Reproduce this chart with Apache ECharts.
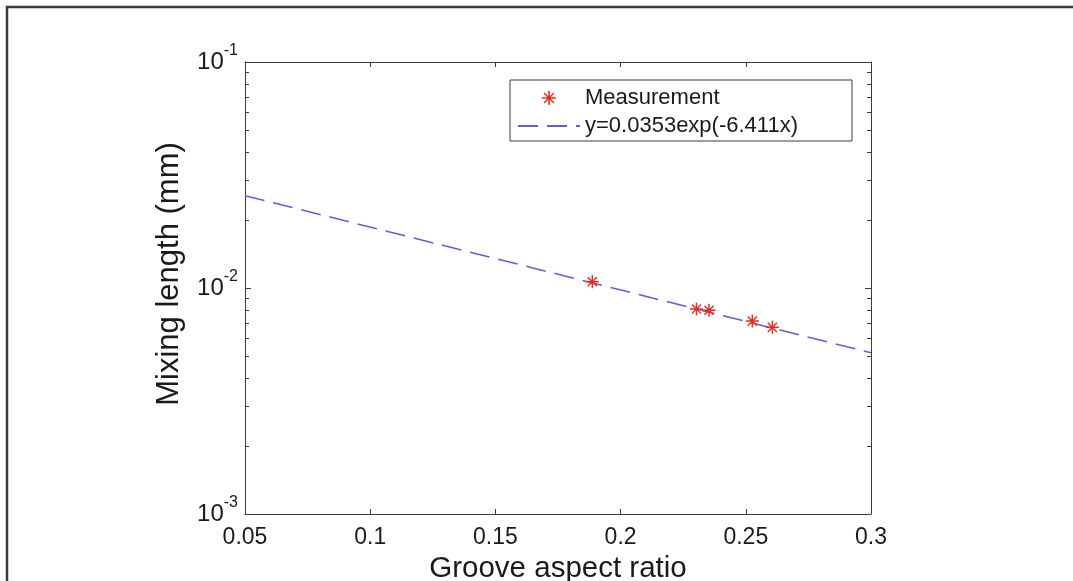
<!DOCTYPE html>
<html>
<head>
<meta charset="utf-8">
<title>Mixing length vs groove aspect ratio</title>
<script src="https://cdn.jsdelivr.net/npm/echarts@6/dist/echarts.min.js"></script>
<style>
  html, body { margin: 0; padding: 0; background: #ffffff; }
  #chart { width: 1073px; height: 581px; }
</style>
</head>
<body>
<div id="chart"></div>
<script>
// Measured mixing length against groove aspect ratio
const aspectRatio = [0.1887, 0.2303, 0.2353, 0.2526, 0.2606];
const mixingLength = [0.01066, 0.00807, 0.00797, 0.00714, 0.0067];

// Exponential fit y = 0.0353 exp(-6.411 x), evaluated at the ends of the x range
const fitX = [0.05, 0.3];
const fitY = [0.02562, 0.005165];

// Axis ticks
const xTickLabels = ['0.05', '0.1', '0.15', '0.2', '0.25', '0.3'];
const yMinorTicks = [0.002, 0.003, 0.004, 0.005, 0.006, 0.007, 0.008, 0.009,
                     0.02, 0.03, 0.04, 0.05, 0.06, 0.07, 0.08, 0.09];

const FONT = '"Liberation Sans", Arial, Helvetica, sans-serif';
const AXIS_COLOR = '#3c3c3c';
const FIT_COLOR = '#5f5fda';

// Asterisk marker: horizontal, vertical and two diagonal strokes
const ASTERISK = 'path://M0 8.9H20V11.1H0Z M8.9 0H11.1V20H8.9Z ' +
  'M3.7 2.2L17.8 16.3L16.3 17.8L2.2 3.7Z M16.3 2.2L17.8 3.7L3.7 17.8L2.2 16.3Z';

const chart = echarts.init(document.getElementById('chart'), null, { renderer: 'canvas' });

const fitData = fitX.map((x, i) => [x, fitY[i]]);
const measData = aspectRatio.map((x, i) => [x, mixingLength[i]]);
const minorData = yMinorTicks.map(v => [0.05, v]);

function yLabel(v) {
  const e = Math.round(Math.log10(v));
  return '{b|10}{s|' + e + '}';
}

const option = {
  backgroundColor: '#ffffff',
  animation: false,
  graphic: [{
    type: 'rect',
    shape: { x: 7, y: 7, width: 1200, height: 700 },
    style: { fill: 'none', stroke: '#3a3a3a', lineWidth: 2.5 },
    silent: true
  }],
  grid: {
    left: 245, right: 202, top: 62, bottom: 67,
    containLabel: false,
    outerBoundsMode: 'none'
  },
  legend: {
    orient: 'vertical',
    left: 510,
    top: 80,
    padding: [7, 54, 4, 7],
    itemGap: 6,
    itemWidth: 62,
    itemHeight: 14,
    borderColor: '#3c3c3c',
    borderWidth: 1,
    backgroundColor: '#ffffff',
    textStyle: { fontFamily: FONT, fontSize: 22, color: '#1a1a1a' },
    data: [
      { name: 'Measurement', icon: ASTERISK },
      {
        name: 'y=0.0353exp(-6.411x)',
        itemStyle: { color: 'rgba(0,0,0,0)', borderColor: 'rgba(0,0,0,0)', borderWidth: 0, opacity: 0 }
      }
    ]
  },
  xAxis: [{
    type: 'value',
    position: 'bottom',
    min: 0.05,
    max: 0.3,
    interval: 0.05,
    name: 'Groove aspect ratio',
    nameLocation: 'middle',
    nameGap: 40,
    nameTextStyle: { fontFamily: FONT, fontSize: 29.5, color: '#1a1a1a' },
    axisLine: { show: true, onZero: false, lineStyle: { color: AXIS_COLOR, width: 1 } },
    axisTick: { show: true, inside: true, length: 5, lineStyle: { color: AXIS_COLOR } },
    axisLabel: {
      fontFamily: FONT, fontSize: 23, color: '#1a1a1a', margin: 12,
      formatter: (v) => {
        const i = Math.round((v - 0.05) / 0.05);
        return xTickLabels[i] !== undefined ? xTickLabels[i] : '';
      }
    },
    splitLine: { show: false }
  }, {
    type: 'value',
    position: 'top',
    min: 0.05,
    max: 0.3,
    interval: 0.05,
    axisLine: { show: true, onZero: false, lineStyle: { color: AXIS_COLOR, width: 1 } },
    axisTick: { show: true, inside: true, length: 5, lineStyle: { color: AXIS_COLOR } },
    axisLabel: { show: false },
    splitLine: { show: false }
  }],
  yAxis: [{
    type: 'log',
    logBase: 10,
    position: 'left',
    min: 0.001,
    max: 0.1,
    name: 'Mixing length (mm)',
    nameLocation: 'middle',
    nameGap: 60,
    nameRotate: 90,
    nameTextStyle: { fontFamily: FONT, fontSize: 31, color: '#1a1a1a', padding: [0, 0, 0, 28] },
    axisLine: { show: true, onZero: false, lineStyle: { color: AXIS_COLOR, width: 1 } },
    axisTick: { show: true, inside: true, length: 6, lineStyle: { color: AXIS_COLOR } },
    axisLabel: {
      margin: 7,
      formatter: yLabel,
      rich: {
        b: { fontFamily: FONT, fontSize: 24, color: '#1a1a1a' },
        s: { fontFamily: FONT, fontSize: 16, color: '#1a1a1a', padding: [0, 0, 22, 0] }
      }
    },
    splitLine: { show: false }
  }, {
    type: 'log',
    logBase: 10,
    position: 'right',
    min: 0.001,
    max: 0.1,
    axisLine: { show: true, onZero: false, lineStyle: { color: AXIS_COLOR, width: 1 } },
    axisTick: { show: true, inside: true, length: 6, lineStyle: { color: AXIS_COLOR } },
    axisLabel: { show: false },
    splitLine: { show: false }
  }],
  series: [
    {
      // minor log ticks on the left and right spines
      name: 'minorTicks',
      type: 'custom',
      silent: true,
      z: 3,
      xAxisIndex: 0,
      yAxisIndex: 0,
      data: minorData,
      renderItem: (params, api) => {
        const cs = params.coordSys;
        const y = Math.round(api.coord([api.value(0), api.value(1)])[1]) + 0.5;
        const style = { stroke: AXIS_COLOR, lineWidth: 1 };
        return {
          type: 'group',
          children: [
            { type: 'line', shape: { x1: cs.x, y1: y, x2: cs.x + 4, y2: y }, style },
            { type: 'line', shape: { x1: cs.x + cs.width - 4, y1: y, x2: cs.x + cs.width, y2: y }, style }
          ]
        };
      }
    },
    {
      name: 'y=0.0353exp(-6.411x)',
      type: 'line',
      xAxisIndex: 0,
      yAxisIndex: 0,
      data: fitData,
      symbol: 'none',
      z: 4,
      lineStyle: { color: FIT_COLOR, width: 1.5, type: [20, 9] },
      itemStyle: { color: FIT_COLOR }
    },
    {
      name: 'Measurement',
      type: 'scatter',
      xAxisIndex: 0,
      yAxisIndex: 0,
      data: measData,
      symbol: ASTERISK,
      symbolSize: 13,
      z: 5,
      itemStyle: { color: '#f02a1a', opacity: 1 }
    }
  ]
};

chart.setOption(option);
</script>
</body>
</html>
